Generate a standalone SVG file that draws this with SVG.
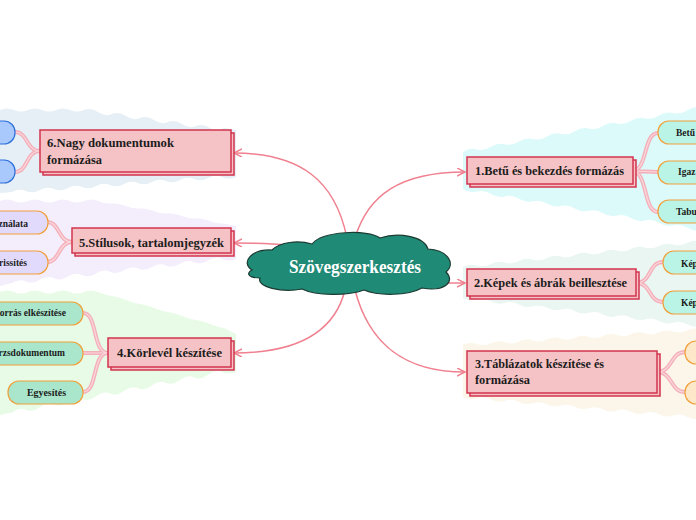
<svg xmlns="http://www.w3.org/2000/svg" width="696" height="520" viewBox="0 0 696 520">
<defs>
<marker id="arr" markerUnits="userSpaceOnUse" markerWidth="10" markerHeight="10" refX="8" refY="4" orient="auto">
<path d="M0,0 L8,4 L0,8" fill="none" stroke="#f0808f" stroke-width="1.5"/>
</marker>
</defs>
<style>
.main{fill:#f5c3c5;stroke:#d2344e;stroke-width:1.5}
.mt{font-family:"Liberation Serif","DejaVu Serif",serif;font-weight:bold;font-size:13px;fill:#1c1c1c}
.ct{font-family:"Liberation Serif","DejaVu Serif",serif;font-weight:bold;font-size:9.5px;fill:#1c1c1c}
.conn{fill:none;stroke:#f0808f;stroke-width:1.5}
.br{fill:none;stroke:#f4b0ba;stroke-width:4;stroke-linecap:round}
.br2{fill:none;stroke:#fbd8dd;stroke-width:1.2;stroke-linecap:round}
.co{stroke:#f0a03c;stroke-width:1.2}
</style>
<rect width="696" height="520" fill="#ffffff"/>
<g id="backgrounds">
<path fill="#e5eff5" d="M0,110 q7,-3 14,0 t14,0 t14,0 t14,0 t14,0 t14,0 t14,2 t14,2 t14,2 t14,2 t14,2 t14,2 t14,2 t14,2 t14,2 t14,0 L236,130 L236,177 q-7,3 -14,0 t-14,1 t-14,1 t-14,1 t-14,1 t-14,1 t-14,1 t-14,1 t-14,1 t-14,1 t-14,1 t-14,1 t-14,1 t-14,1 t-14,1 t-14,1 L0,193 Z"/>
<path fill="#f4eefc" d="M0,201 q7,-3 14,0 t14,0 t14,0 t14,0 t14,0 t14,0 t14,0 t14,2.5 t14,2.5 t14,2.5 t14,2.5 t14,2.5 t14,2.5 t14,2.5 t14,2.5 t14,2.5 L236,226 L236,259 q-7,3 -14,0 t-14,1.6 t-14,1.6 t-14,1.6 t-14,1.6 t-14,1.6 t-14,1.6 t-14,1.6 t-14,1.6 t-14,1.6 t-14,1.6 t-14,1.6 t-14,1.6 t-14,1.6 t-14,1.6 t-14,1.6 L0,286 Z"/>
<path fill="#e8fbe6" d="M0,292 q7,-3 14,0 t14,0 t14,0 t14,0 t14,0 t14,0 t14,0 t14,4 t14,4 t14,4 t14,4 t14,4 t14,4 t14,4 t14,4 t14,4 L236,334 L236,372 q-7,3 -14,0 t-14,2.7 t-14,2.7 t-14,2.7 t-14,2.7 t-14,2.7 t-14,2.7 t-14,2.7 t-14,2.7 t-14,2.7 t-14,2.7 t-14,2.7 t-14,2.7 t-14,2.7 t-14,2.7 t-14,2.7 L0,415 Z"/>
<path fill="#dcfafa" d="M463,152 q7,-4.5 14,-2.6 t14,-2.6 t14,-2.6 t14,-2.6 t14,-2.6 t14,-2.6 t14,-2.6 t14,-2.6 t14,-2.6 t14,-2.6 t14,-2.6 t14,-2.6 t14,-2.6 t14,-2.6 t14,-2.6 t14,-2.6 t14,-2.6 L701,230 q-7,1.8 -14,-2.4 t-14,-2.4 t-14,-2.4 t-14,-2.4 t-14,-2.4 t-14,-2.4 t-14,-2.4 t-14,-2.4 t-14,-2.4 t-14,-2.4 t-14,-2.4 t-14,-2.4 t-14,-2.4 t-14,-2.4 t-14,-2.4 t-14,-2.4 t-14,-2.4 Z"/>
<path fill="#eaf6f2" d="M463,267 q7,-3.8 14,-1.5 t14,-1.5 t14,-1.5 t14,-1.5 t14,-1.5 t14,-1.5 t14,-1.5 t14,-1.5 t14,-1.5 t14,-1.5 t14,-1.5 t14,-1.5 t14,-1.5 t14,-1.5 t14,-1.5 t14,-1.5 t14,-1.5 L701,326 q-7,2.2 -14,-1.65 t-14,-1.65 t-14,-1.65 t-14,-1.65 t-14,-1.65 t-14,-1.65 t-14,-1.65 t-14,-1.65 t-14,-1.65 t-14,-1.65 t-14,-1.65 t-14,-1.65 t-14,-1.65 t-14,-1.65 t-14,-1.65 t-14,-1.65 t-14,-1.65 Z"/>
<path fill="#fbf6e9" d="M463,345 q7,-3.5 14,-0.9 t14,-0.9 t14,-0.9 t14,-0.9 t14,-0.9 t14,-0.9 t14,-0.9 t14,-0.9 t14,-0.9 t14,-0.9 t14,-0.9 t14,-0.9 t14,-0.9 t14,-0.9 t14,-0.9 t14,-0.9 t14,-0.9 L701,418 q-7,2.4 -14,-1.24 t-14,-1.24 t-14,-1.24 t-14,-1.24 t-14,-1.24 t-14,-1.24 t-14,-1.24 t-14,-1.24 t-14,-1.24 t-14,-1.24 t-14,-1.24 t-14,-1.24 t-14,-1.24 t-14,-1.24 t-14,-1.24 t-14,-1.24 t-14,-1.24 Z"/>
</g>
<g id="connectors">
<path class="conn" marker-end="url(#arr)" d="M347,238 C335,180 300,153 234,153"/>
<path class="conn" marker-end="url(#arr)" d="M287,245 C270,243 255,243 234,243"/>
<path class="conn" marker-end="url(#arr)" d="M345,290 C335,330 300,353 234,353"/>
<path class="conn" marker-end="url(#arr)" d="M355,238 C368,195 400,172 465,172"/>
<path class="conn" marker-end="url(#arr)" d="M437,283 L465,283"/>
<path class="conn" marker-end="url(#arr)" d="M355,290 C368,340 400,372 465,372"/>
<g id="branches">
<path class="br" d="M40,151 C26,151 28,132 15,132 M40,151 C26,151 28,172 15,172"/>
<path class="br" d="M72,242 C58,242 60,222 47,222 M72,242 C58,242 60,262 47,262"/>
<path class="br" d="M108,353 C92,353 98,313 83,313 M108,353 L83,353 M108,353 C92,353 98,392 83,392"/>
<path class="br" d="M632,171 C648,171 643,133 658,133 M632,171 L658,172 M632,171 C648,171 643,212 658,212"/>
<path class="br" d="M636,283 C652,283 648,262 663,262 M636,283 C652,283 648,302 663,302"/>
<path class="br" d="M657,372 C673,372 670,352 685,352 M657,372 C673,372 670,392 685,392"/>
<path class="br2" d="M40,151 C26,151 28,132 15,132 M40,151 C26,151 28,172 15,172 M72,242 C58,242 60,222 47,222 M72,242 C58,242 60,262 47,262 M108,353 C92,353 98,313 83,313 M108,353 L83,353 M108,353 C92,353 98,392 83,392 M632,171 C648,171 643,133 658,133 M632,171 L658,172 M632,171 C648,171 643,212 658,212 M636,283 C652,283 648,262 663,262 M636,283 C652,283 648,302 663,302 M657,372 C673,372 670,352 685,352 M657,372 C673,372 670,392 685,392"/>
</g>
</g>
<g id="center">
<path fill="#1f8a76" stroke="#1b3a31" stroke-width="1.2" d="M252,270 C240,262 252,249 272,250 C280,242 298,240 312,244 C322,231 368,229 380,238 C398,232 424,236 428,249 C448,250 456,264 446,272 C456,282 444,292 422,288 C408,296 378,296 364,290 C348,296 316,296 302,289 C282,293 256,287 260,278 C248,278 246,273 252,270 Z"/>
<text x="355" y="273" text-anchor="middle" font-family="Liberation Serif, DejaVu Serif, serif" font-weight="bold" font-size="18" fill="#ffffff" textLength="132" lengthAdjust="spacingAndGlyphs">Szövegszerkesztés</text>
</g>
<g id="n6">
<rect class="main" x="43" y="133" width="191" height="42"/>
<rect class="main" x="40" y="130" width="191" height="42"/>
<text class="mt" x="47" y="147" textLength="127" lengthAdjust="spacingAndGlyphs">6.Nagy dokumentumok</text>
<text class="mt" x="47" y="164" textLength="55" lengthAdjust="spacingAndGlyphs">formázása</text>
</g>
<g id="n6a"><rect x="-60" y="121" width="75" height="23" rx="11" fill="#a9c9fc" stroke="#2e6fdc" stroke-width="1.2"/></g>
<g id="n6b"><rect x="-60" y="160" width="75" height="23" rx="11" fill="#a9c9fc" stroke="#2e6fdc" stroke-width="1.2"/></g>
<g id="n5">
<rect class="main" x="75" y="231" width="159" height="25"/>
<rect class="main" x="72" y="228" width="159" height="25"/>
<text class="mt" x="79" y="247" textLength="145" lengthAdjust="spacingAndGlyphs">5.Stílusok, tartalomjegyzék</text>
</g>
<g id="n5a"><rect class="co" x="-40" y="211" width="88" height="23" rx="11" fill="#e2dafc"/><text class="ct" x="28" y="227" text-anchor="end">ználata</text></g>
<g id="n5b"><rect class="co" x="-40" y="251" width="88" height="23" rx="11" fill="#e2dafc"/><text class="ct" x="27" y="266" text-anchor="end">rissítés</text></g>
<g id="n4">
<rect class="main" x="111" y="341" width="123" height="29"/>
<rect class="main" x="108" y="338" width="123" height="29"/>
<text class="mt" x="117" y="357" textLength="105" lengthAdjust="spacingAndGlyphs">4.Körlevél készítése</text>
</g>
<g id="n4a"><rect class="co" x="-40" y="302" width="123" height="23" rx="11" fill="#a9e6cb"/><text class="ct" x="66" y="316" text-anchor="end">orrás elkészítése</text></g>
<g id="n4b"><rect class="co" x="-40" y="342" width="123" height="23" rx="11" fill="#a9e6cb"/><text class="ct" x="65" y="356" text-anchor="end">rzsdokumentum</text></g>
<g id="n4c"><rect class="co" x="8" y="381" width="75" height="23" rx="11" fill="#a9e6cb"/><text class="ct" x="27" y="396" textLength="39" lengthAdjust="spacingAndGlyphs">Egyesítés</text></g>
<g id="n1">
<rect class="main" x="470" y="160" width="166" height="27"/>
<rect class="main" x="467" y="157" width="166" height="27"/>
<text class="mt" x="475" y="175" textLength="149" lengthAdjust="spacingAndGlyphs">1.Betű és bekezdés formázás</text>
</g>
<g id="n1a"><rect class="co" x="658" y="121" width="80" height="23" rx="11" fill="#b9f4e6"/><text class="ct" x="676" y="136">Betű</text></g>
<g id="n1b"><rect class="co" x="658" y="161" width="80" height="23" rx="11" fill="#b9f4e6"/><text class="ct" x="678" y="175">Igaz</text></g>
<g id="n1c"><rect class="co" x="658" y="200" width="80" height="23" rx="11" fill="#b9f4e6"/><text class="ct" x="676" y="215">Tabu</text></g>
<g id="n2">
<rect class="main" x="470" y="272" width="169" height="27"/>
<rect class="main" x="467" y="269" width="169" height="27"/>
<text class="mt" x="474" y="287" textLength="153" lengthAdjust="spacingAndGlyphs">2.Képek és ábrák beillesztése</text>
</g>
<g id="n2a"><rect class="co" x="663" y="251" width="80" height="23" rx="11" fill="#b9f4e6"/><text class="ct" x="681" y="267">Kép</text></g>
<g id="n2b"><rect class="co" x="663" y="291" width="80" height="23" rx="11" fill="#b9f4e6"/><text class="ct" x="681" y="306">Kép</text></g>
<g id="n3">
<rect class="main" x="470" y="354" width="190" height="42"/>
<rect class="main" x="467" y="351" width="190" height="42"/>
<text class="mt" x="475" y="368" textLength="129" lengthAdjust="spacingAndGlyphs">3.Táblázatok készítése és</text>
<text class="mt" x="475" y="384" textLength="55" lengthAdjust="spacingAndGlyphs">formázása</text>
</g>
<g id="n3a"><rect class="co" x="685" y="341" width="60" height="23" rx="11" fill="#fde9c9"/></g>
<g id="n3b"><rect class="co" x="685" y="381" width="60" height="23" rx="11" fill="#fde9c9"/></g>
</svg>
